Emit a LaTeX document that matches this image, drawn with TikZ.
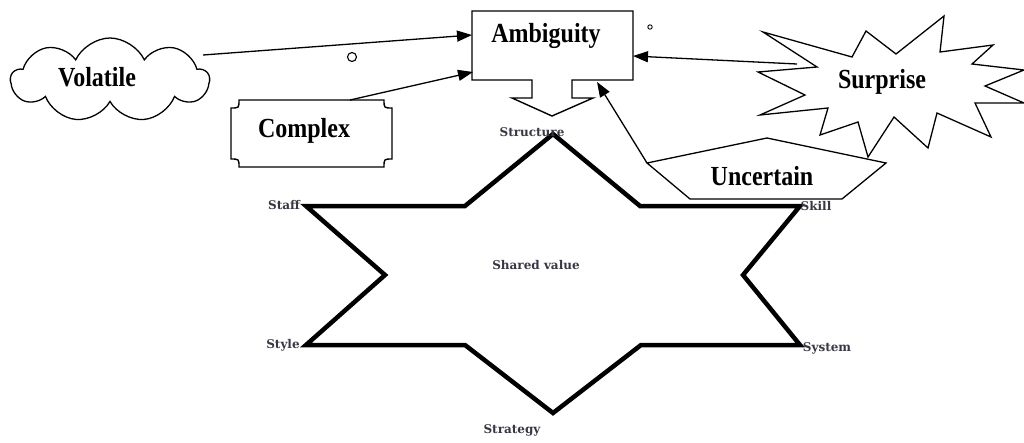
\documentclass[tikz,border=0pt]{standalone}
\usepackage{fontspec}
\setmainfont{Liberation Serif}
\newfontfamily\lblfont{DejaVu Serif}
\usetikzlibrary{arrows.meta,shapes.symbols}
\newcommand{\tallw}[1]{\scalebox{1}[1.15]{#1}}
\begin{document}
\begin{tikzpicture}[x=1pt,y=-1pt,
  big/.style={font=\fontsize{24}{28}\selectfont\bfseries, inner sep=0pt, anchor=base},
  small/.style={font=\lblfont\bfseries\fontsize{12}{14}\selectfont, text={rgb,255:red,55;green,55;blue,70}, inner sep=0pt, anchor=base},
  outline/.style={draw=black, line width=1.4pt, line join=miter},
  conn/.style={draw=black, line width=1.3pt, -{Triangle[length=15pt,width=11pt]}},
  starline/.style={draw=black, line width=4.5pt, line join=miter, miter limit=10}]
\useasboundingbox (0,0) rectangle (1024,442);
\fill[white] (0,0) rectangle (1024,442);

% ---- Ambiguity box with down arrow
\draw[outline] (472,11) -- (633,11) -- (633,80) -- (572,80) -- (572,98) -- (593,98)
  -- (552,116) -- (512,98) -- (532,98) -- (532,80) -- (472,80) -- cycle;
\node[big] (amb) at (546,42) {\tallw{Ambiguity}};
\coordinate (ambW1) at (472,35);
\coordinate (ambW2) at (473,72);
\coordinate (ambE) at (633,56);
\coordinate (ambS) at (597,82);

% ---- Volatile cloud
\node[cloud, draw, line width=1.3pt, cloud puffs=9, cloud puff arc=130, aspect=2.4,
  minimum width=198pt, minimum height=84pt, inner sep=0pt] (volshape) at (110,80) {};
\node[big] (vol) at (97,86) {\tallw{Volatile}};
\coordinate (volE) at (203,55);

% ---- Complex plaque
\draw[outline] (239,100) -- (384,100) .. controls (384,108) .. (392,108)
  -- (392,159) .. controls (384,159) .. (384,167)
  -- (239,167) .. controls (239,159) .. (231,159)
  -- (231,108) .. controls (239,108) .. (239,100) -- cycle;
\node[big] (cpx) at (304,137) {\tallw{Complex}};
\coordinate (cpxN) at (350,100);

% ---- Surprise starburst
\draw[outline, line width=1.3pt] (763,32) -- (852,57) -- (866,31) -- (896,54) -- (944,16)
  -- (940,52) -- (993,45) -- (972,64) -- (1024,70) -- (985,86) -- (1024,103)
  -- (975,103) -- (991,137) -- (937,113) -- (928,148) -- (894,117) -- (868,157)
  -- (858,122) -- (820,135) -- (828,108) -- (760,115) -- (805,95) -- (758,72)
  -- (817,67) -- cycle;
\node[big] (sur) at (882,88) {\tallw{Surprise}};
\coordinate (surW) at (797,64);

% ---- Uncertain pentagon
\draw[outline, line width=1.3pt] (767,138) -- (886,163) -- (842,199) -- (690,199) -- (647,163) -- cycle;
\node[big] (unc) at (762,185) {\tallw{Uncertain}};
\coordinate (uncW) at (647,163);

% ---- connectors
\draw[conn] (volE) -- (ambW1);
\draw[conn] (cpxN) -- (ambW2);
\draw[conn] (surW) -- (ambE);
\draw[conn] (uncW) -- (ambS);

% ---- small circles
\draw[line width=1.1pt] (352,57) circle (4.5);
\draw[line width=0.9pt] (650,27) circle (2.2);

% ---- 7S star
\coordinate (sStructure) at (553,134);
\coordinate (sSkill) at (800,206);
\coordinate (sSystem) at (800,345);
\coordinate (sStrategy) at (553,413);
\coordinate (sStyle) at (306,345);
\coordinate (sStaff) at (306,206);
\draw[starline] (sStructure) -- (640,206) -- (sSkill) -- (743,275) -- (sSystem)
  -- (641,345) -- (sStrategy) -- (465,345) -- (sStyle) -- (385,275) -- (sStaff)
  -- (465,206) -- cycle;

\node[small] (lStructure) at (532,136) {Structure};
\node[small] (lStaff) at (284,209) {Staff};
\node[small] (lSkill) at (816,210) {Skill};
\node[small] (lStyle) at (283,348) {Style};
\node[small] (lSystem) at (827,351) {System};
\node[small] (lStrategy) at (512,433) {Strategy};
\node[small] (lShared) at (536,269) {Shared value};
\end{tikzpicture}
\end{document}
